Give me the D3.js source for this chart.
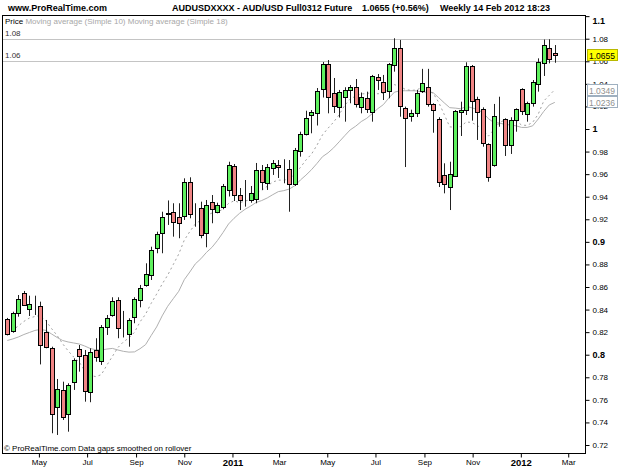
<!DOCTYPE html>
<html>
<head>
<meta charset="utf-8">
<script src="https://cdn.jsdelivr.net/npm/d3@7"></script>
<style>
  body { margin: 0; background: #fff; }
  text { font-family: Arial, "Liberation Sans", sans-serif; }
</style>
</head>
<body>
<svg id="chart" width="625" height="469"></svg>
<script>
// weekly candles, AUD/USD future, Mar 2010 - Feb 2012
const firstWeek = new Date(2010, 2, 22);
const lastWeek = new Date(2012, 1, 13);
const weeks = d3.timeMonday.range(firstWeek, d3.timeDay.offset(lastWeek, 1));

const open = [
  0.8314, 0.8204, 0.8367, 0.8544, 0.8403, 0.8452, 0.8432, 0.8204, 0.8062, 0.7534,
  0.7688, 0.7472, 0.7761, 0.8051, 0.7998, 0.7673, 0.8042, 0.7938, 0.8243, 0.8346,
  0.8485, 0.8237, 0.8184, 0.8332, 0.8485, 0.8618, 0.8706, 0.8943, 0.9076, 0.9258,
  0.9262, 0.9223, 0.9229, 0.9533, 0.9269, 0.9297, 0.9083, 0.9349, 0.9267, 0.9312,
  0.9460, 0.9672, 0.9415, 0.9375, 0.9371, 0.9380, 0.9641, 0.9519, 0.9661, 0.9681,
  0.9683, 0.9643, 0.9513, 0.9805, 0.9956, 1.0124, 1.0139, 1.0352, 1.0576, 1.0319,
  1.0191, 1.0286, 1.0352, 1.0375, 1.0192, 1.0272, 1.0153, 1.0458, 1.0419, 1.0343,
  1.0567, 1.0715, 1.0183, 1.0115, 1.0142, 1.0331, 1.0372, 1.0222, 1.0086, 0.9593,
  0.9484, 0.9584, 1.0153, 1.0168, 1.0558, 1.0263, 1.0175, 0.9867, 0.9681, 1.0115,
  1.0086, 0.9858, 1.0080, 1.0352, 1.0133, 1.0228, 1.0405, 1.0587, 1.0715, 1.0676
];
const high = [
  0.8326, 0.8381, 0.8529, 0.8565, 0.8523, 0.8523, 0.8470, 0.8308, 0.8071, 0.7785,
  0.7761, 0.7747, 0.7968, 0.8086, 0.8042, 0.8057, 0.8146, 0.8263, 0.8352, 0.8509,
  0.8509, 0.8388, 0.8323, 0.8509, 0.8618, 0.8810, 0.8957, 0.9090, 0.9267, 0.9367,
  0.9342, 0.9342, 0.9563, 0.9572, 0.9342, 0.9356, 0.9371, 0.9415, 0.9347, 0.9513,
  0.9710, 0.9690, 0.9477, 0.9548, 0.9495, 0.9699, 0.9681, 0.9690, 0.9725, 0.9725,
  0.9732, 0.9725, 0.9832, 0.9976, 1.0162, 1.0168, 1.0363, 1.0594, 1.0611, 1.0452,
  1.0346, 1.0370, 1.0390, 1.0443, 1.0323, 1.0331, 1.0479, 1.0487, 1.0479, 1.0585,
  1.0804, 1.0789, 1.0198, 1.0171, 1.0346, 1.0533, 1.0533, 1.0228, 1.0104, 0.9696,
  0.9710, 1.0168, 1.0242, 1.0591, 1.0567, 1.0286, 1.0192, 0.9873, 1.0222, 1.0286,
  1.0095, 1.0104, 1.0183, 1.0361, 1.0242, 1.0434, 1.0626, 1.0793, 1.0795, 1.0744
];
const low = [
  0.8171, 0.8195, 0.8337, 0.8432, 0.8343, 0.8352, 0.7914, 0.8057, 0.7304, 0.7289,
  0.7422, 0.7318, 0.7688, 0.7850, 0.7584, 0.7579, 0.7938, 0.7909, 0.8175, 0.8337,
  0.8146, 0.8153, 0.8071, 0.8279, 0.8420, 0.8603, 0.8662, 0.8899, 0.8899, 0.9150,
  0.9046, 0.9032, 0.9194, 0.9209, 0.9134, 0.9032, 0.8952, 0.9165, 0.9253, 0.9289,
  0.9402, 0.9362, 0.9282, 0.9312, 0.9347, 0.9342, 0.9460, 0.9460, 0.9593, 0.9566,
  0.9519, 0.9267, 0.9495, 0.9755, 0.9943, 0.9962, 1.0031, 1.0279, 1.0139, 1.0142,
  1.0102, 1.0065, 1.0228, 1.0191, 1.0139, 1.0142, 1.0065, 1.0346, 1.0257, 1.0272,
  1.0508, 1.0109, 0.9663, 1.0065, 1.0106, 1.0319, 1.0198, 0.9967, 0.9486, 0.9430,
  0.9282, 0.9575, 0.9938, 1.0124, 1.0074, 0.9903, 0.9843, 0.9533, 0.9666, 1.0020,
  0.9761, 0.9779, 0.9976, 1.0124, 1.0065, 1.0198, 1.0331, 1.0470, 1.0582, 1.0587
];
const close = [
  0.8184, 0.8367, 0.8491, 0.8441, 0.8447, 0.8450, 0.8086, 0.8069, 0.7481, 0.7694,
  0.7451, 0.7729, 0.7953, 0.7992, 0.7679, 0.8027, 0.7983, 0.8243, 0.8323, 0.8472,
  0.8234, 0.8234, 0.8308, 0.8491, 0.8594, 0.8713, 0.8928, 0.9070, 0.9218, 0.9251,
  0.9173, 0.9173, 0.9533, 0.9253, 0.9267, 0.9056, 0.9327, 0.9289, 0.9327, 0.9495,
  0.9681, 0.9415, 0.9371, 0.9377, 0.9430, 0.9637, 0.9533, 0.9663, 0.9701, 0.9661,
  0.9681, 0.9513, 0.9814, 0.9956, 1.0095, 1.0153, 1.0337, 1.0576, 1.0286, 1.0201,
  1.0328, 1.0346, 1.0375, 1.0228, 1.0281, 1.0175, 1.0470, 1.0434, 1.0331, 1.0579,
  1.0715, 1.0198, 1.0095, 1.0144, 1.0316, 1.0405, 1.0222, 1.0166, 0.9526, 0.9513,
  0.9601, 1.0160, 1.0168, 1.0558, 1.0251, 1.0144, 0.9873, 0.9577, 1.0115, 1.0113,
  0.9858, 1.0080, 1.0175, 1.0153, 1.0228, 1.0414, 1.0596, 1.0744, 1.0618, 1.0655
];

// moving averages as drawn (one point per candle)
const ma10 = [
  0.8193, 0.8219, 0.8255, 0.8295, 0.8325, 0.8339, 0.8348, 0.8299, 0.8232, 0.8171,
  0.8098, 0.8034, 0.7980, 0.7935, 0.7858, 0.7816, 0.7806, 0.7823, 0.7907, 0.7985,
  0.8063, 0.8114, 0.8149, 0.8199, 0.8291, 0.8359, 0.8454, 0.8537, 0.8626, 0.8705,
  0.8798, 0.8892, 0.9015, 0.9091, 0.9158, 0.9193, 0.9233, 0.9255, 0.9265, 0.9289,
  0.9340, 0.9364, 0.9348, 0.9361, 0.9377, 0.9435, 0.9455, 0.9493, 0.9530, 0.9547,
  0.9547, 0.9557, 0.9601, 0.9659, 0.9725, 0.9777, 0.9857, 0.9949, 1.0007, 1.0061,
  1.0126, 1.0209, 1.0265, 1.0292, 1.0311, 1.0313, 1.0326, 1.0312, 1.0317, 1.0354,
  1.0393, 1.0378, 1.0350, 1.0342, 1.0346, 1.0369, 1.0344, 1.0317, 1.0237, 1.0130,
  1.0019, 1.0015, 1.0022, 1.0063, 1.0057, 1.0031, 0.9996, 0.9937, 0.9996, 1.0056,
  1.0082, 1.0074, 1.0074, 1.0034, 1.0032, 1.0059, 1.0131, 1.0248, 1.0298, 1.0349
];
const ma18 = [
  0.8126, 0.8140, 0.8157, 0.8179, 0.8197, 0.8215, 0.8224, 0.8215, 0.8184, 0.8153,
  0.8126, 0.8113, 0.8104, 0.8095, 0.8077, 0.8055, 0.8044, 0.8042, 0.8050, 0.8056,
  0.8042, 0.8030, 0.8023, 0.8025, 0.8053, 0.8089, 0.8169, 0.8246, 0.8344, 0.8429,
  0.8496, 0.8562, 0.8665, 0.8733, 0.8805, 0.8850, 0.8906, 0.8951, 0.9012, 0.9082,
  0.9158, 0.9209, 0.9253, 0.9289, 0.9317, 0.9349, 0.9366, 0.9389, 0.9418, 0.9445,
  0.9454, 0.9468, 0.9498, 0.9548, 0.9591, 0.9639, 0.9695, 0.9755, 0.9789, 0.9833,
  0.9886, 0.9940, 0.9992, 1.0025, 1.0066, 1.0095, 1.0137, 1.0180, 1.0216, 1.0276,
  1.0326, 1.0339, 1.0339, 1.0339, 1.0338, 1.0328, 1.0325, 1.0322, 1.0278, 1.0232,
  1.0189, 1.0185, 1.0179, 1.0200, 1.0188, 1.0172, 1.0146, 1.0091, 1.0057, 1.0053,
  1.0040, 1.0036, 1.0028, 1.0014, 1.0014, 1.0028, 1.0088, 1.0156, 1.0213, 1.0236
];

const yTicks = [0.72, 0.74, 0.76, 0.78, 0.8, 0.82, 0.84, 0.86, 0.88, 0.9,
                0.92, 0.94, 0.96, 0.98, 1, 1.02, 1.04, 1.06, 1.08, 1.1];
const boldTicks = [0.8, 0.9, 1, 1.1];
const xTicks = [new Date(2010, 4, 1), new Date(2010, 6, 1), new Date(2010, 8, 1), new Date(2010, 10, 1),
                new Date(2011, 0, 1), new Date(2011, 2, 1), new Date(2011, 4, 1), new Date(2011, 6, 1),
                new Date(2011, 8, 1), new Date(2011, 10, 1), new Date(2012, 0, 1), new Date(2012, 2, 1)];
const levels = [1.08, 1.06];
const lastPrice = 1.0655;
const maLabels = ["1.0349", "1.0236"];

const svg = d3.select("#chart");
const plot = {left: 2, right: 585, top: 15, bottom: 453};

const x = d3.scaleTime().domain([firstWeek, lastWeek]).range([7.3, 554.8]);
const y = d3.scaleLinear().domain([0.72, 1.0]).range([445, 129]);

svg.append("rect").attr("width", 625).attr("height", 469).attr("fill", "#fff");

svg.append("clipPath").attr("id", "clip")
  .append("rect")
  .attr("x", plot.left).attr("y", plot.top)
  .attr("width", plot.right - plot.left).attr("height", plot.bottom - plot.top);

const g = svg.append("g").attr("clip-path", "url(#clip)");

// horizontal levels
g.selectAll(".level").data(levels).join("line")
  .attr("x1", plot.left).attr("x2", plot.right)
  .attr("y1", d => Math.round(y(d)) + 0.5).attr("y2", d => Math.round(y(d)) + 0.5)
  .attr("stroke", "#c4c4c4");
g.selectAll(".levelText").data(levels).join("text")
  .attr("x", 5).attr("y", d => y(d) - 3)
  .attr("font-size", 8).attr("fill", "#333")
  .text(d => d.toFixed(2));

// moving averages
const line = d3.line().x((d, i) => x(weeks[i])).y(d => y(d));
g.append("path").datum(ma18).attr("d", line)
  .attr("fill", "none").attr("stroke", "#b0b0b0").attr("stroke-width", 1);
g.append("path").datum(ma10).attr("d", line)
  .attr("fill", "none").attr("stroke", "#a0a0a0").attr("stroke-width", 1)
  .attr("stroke-dasharray", "2,3");

// candles
const candles = weeks.map((d, i) => ({date: d, o: open[i], h: high[i], l: low[i], c: close[i]}));
const cg = g.selectAll(".candle").data(candles).join("g");
cg.append("line")
  .attr("x1", d => Math.round(x(d.date)) + 0.5).attr("x2", d => Math.round(x(d.date)) + 0.5)
  .attr("y1", d => y(d.h)).attr("y2", d => y(d.l))
  .attr("stroke", "#222");
cg.append("rect")
  .attr("x", d => Math.round(x(d.date)) - 1.5)
  .attr("y", d => Math.round(y(Math.max(d.o, d.c))) + 0.5)
  .attr("width", 4)
  .attr("height", d => Math.max(0, Math.round(Math.abs(y(d.o) - y(d.c)))))
  .attr("fill", d => d.c >= d.o ? "#5ef05e" : "#f08484")
  .attr("stroke", "#000");

// frame
svg.append("rect")
  .attr("x", plot.left + 0.5).attr("y", plot.top + 0.5)
  .attr("width", plot.right - plot.left).attr("height", plot.bottom - plot.top)
  .attr("fill", "none").attr("stroke", "#000");

// y axis on the right
const yAxis = svg.append("g")
  .attr("transform", `translate(${plot.right + 0.5},0)`)
  .call(d3.axisRight(y).tickValues(yTicks).tickSize(4).tickPadding(3).tickFormat(d => String(+d.toFixed(2))));
yAxis.select(".domain").remove();
yAxis.selectAll("text")
  .attr("font-size", d => boldTicks.includes(d) ? 9 : 8)
  .attr("font-weight", d => boldTicks.includes(d) ? "bold" : "normal")
  .attr("fill", "#000")
  .attr("font-family", "Arial, 'Liberation Sans', sans-serif")
  .attr("dy", d => d === 1.1 ? "0.85em" : "0.32em");

// x axis
const xAxis = svg.append("g")
  .attr("transform", `translate(0,${plot.bottom + 0.5})`)
  .call(d3.axisBottom(x).tickValues(xTicks).tickSize(4).tickPadding(2)
    .tickFormat(d => d.getMonth() === 0 ? d3.timeFormat("%Y")(d) : d3.timeFormat("%b")(d)));
xAxis.select(".domain").remove();
xAxis.selectAll("text")
  .attr("font-size", d => d.getMonth() === 0 ? 9.5 : 8)
  .attr("font-weight", d => d.getMonth() === 0 ? "bold" : "normal")
  .attr("fill", "#000")
  .attr("font-family", "Arial, 'Liberation Sans', sans-serif");

// value boxes on the axis
function valueBox(v, label, fill, stroke, color) {
  const b = svg.append("g").attr("transform", `translate(587,${Math.round(y(v))})`);
  b.append("rect").attr("x", 0.5).attr("y", -5.5).attr("width", 30).attr("height", 11)
    .attr("fill", fill).attr("stroke", stroke);
  b.append("text").attr("x", 2).attr("y", 3.5).attr("font-size", 8.5).attr("fill", color).text(label);
}
valueBox(lastPrice, "1.0655", "#ffff00", "#b8b800", "#000");
valueBox(ma10[ma10.length - 1], maLabels[0], "#fff", "#9fb0c0", "#909090");
valueBox(ma18[ma18.length - 1], maLabels[1], "#fff", "#9fb0c0", "#909090");

// header
const head = svg.append("g").attr("font-weight", "bold").attr("font-size", 9).attr("fill", "#000");
head.append("text").attr("x", 8).attr("y", 11).text("www.ProRealTime.com");
head.append("text").attr("x", 172).attr("y", 11).text("AUDUSDXXXX - AUD/USD Full0312 Future");
head.append("text").attr("x", 362).attr("y", 11).text("1.0655 (+0.56%)");
head.append("text").attr("x", 440).attr("y", 11).text("Weekly  14 Feb 2012 18:23");

// legend
const leg = svg.append("text").attr("x", 5).attr("y", 24).attr("font-size", 8);
leg.append("tspan").attr("fill", "#000").text("Price ");
leg.append("tspan").attr("fill", "#a8a8a8").text("Moving average (Simple 10) Moving average (Simple 18)");

// footer inside plot
svg.append("text").attr("x", 4).attr("y", 451).attr("font-size", 8).attr("fill", "#000")
  .text("\u00A9 ProRealTime.com  Data gaps smoothed on rollover");
</script>
</body>
</html>
